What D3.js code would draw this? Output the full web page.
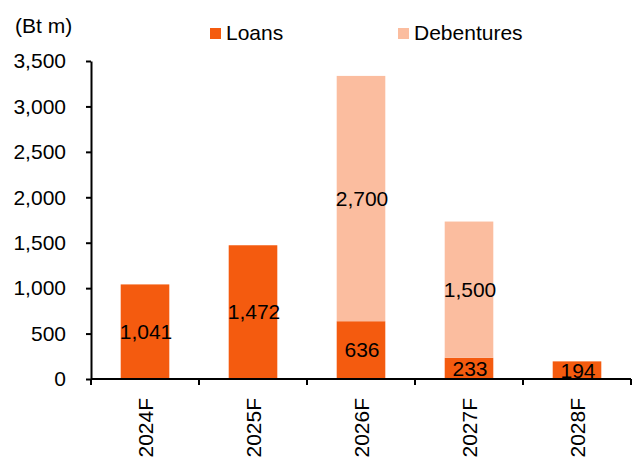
<!DOCTYPE html>
<html><head><meta charset="utf-8">
<script src="https://cdn.jsdelivr.net/npm/d3@7"></script>
<style>body{margin:0;background:#fff}svg{display:block;font-family:"Liberation Sans",Arial,sans-serif}</style>
</head><body><svg id="c" width="641" height="458"></svg>
<script>
const categories = ["2024F","2025F","2026F","2027F","2028F"];
const loans = [1041,1472,636,233,194];
const debentures = [0,0,2700,1500,0];
const yTicks = [0,500,1000,1500,2000,2500,3000,3500];
const seriesNames = ["Loans","Debentures"];
const colors = {Loans:"#F45B0F", Debentures:"#FBBD9F"};

(function(){
const FS = 21;
const svg = d3.select("#c");
const mL = 91, mR = 631, mT = 61, mB = 379;
const x = d3.scaleBand().domain(categories).range([mL,mR]).paddingInner(0.55).paddingOuter(0.275);
const y = d3.scaleLinear().domain([0,3500]).range([mB,mT]);
const fmt = d3.format(",");

const rows = categories.map((c,i)=>({cat:c, Loans:loans[i], Debentures:debentures[i]}));
const stack = d3.stack().keys(seriesNames)(rows);

svg.append("g").selectAll("g").data(stack).join("g")
  .attr("fill", d=>colors[d.key])
  .selectAll("rect").data(d=>d.filter(p=>p[1]-p[0]>0)).join("rect")
  .attr("x", d=>x(d.data.cat)).attr("width", x.bandwidth())
  .attr("y", d=>y(d[1])).attr("height", d=>y(d[0])-y(d[1]));

const lbl = svg.append("g").attr("font-size",FS).attr("fill","#000").attr("text-anchor","middle");
stack.forEach(s=>{
  s.forEach(p=>{
    if(p[1]-p[0]>0){
      lbl.append("text").attr("x", x(p.data.cat)+x.bandwidth()/2+1)
        .attr("y", y((p[0]+p[1])/2)).attr("dy","0.35em").text(fmt(p[1]-p[0]));
    }
  });
});

const ya = svg.append("g").attr("transform",`translate(${mL},0)`)
  .call(d3.axisLeft(y).tickValues(yTicks).tickFormat(fmt).tickSize(5).tickSizeOuter(0));
ya.select(".domain").attr("stroke","#000").attr("stroke-width",2);
ya.selectAll(".tick line").attr("stroke","#000").attr("stroke-width",2);
ya.selectAll("text").attr("font-size",FS).attr("fill","#000").attr("x",-25)
  .attr("font-family","Liberation Sans, Arial, sans-serif");

const boundaries = categories.map(c=>x(c)-x.step()*x.paddingInner()/2).concat([mR]);
const xa = svg.append("g");
xa.append("line").attr("x1",mL).attr("x2",mR).attr("y1",mB).attr("y2",mB)
  .attr("stroke","#000").attr("stroke-width",2);
xa.selectAll("line.t").data(boundaries).join("line").attr("class","t")
  .attr("x1",d=>d).attr("x2",d=>d).attr("y1",mB).attr("y2",mB+6)
  .attr("stroke","#000").attr("stroke-width",2);
xa.selectAll("text").data(categories).join("text")
  .attr("transform",d=>`translate(${x(d)+x.bandwidth()/2+8},${mB+19}) rotate(-90)`)
  .attr("text-anchor","end").attr("font-size",FS).attr("fill","#000").text(d=>d);

svg.append("text").attr("x",15).attr("y",33).attr("font-size",FS).attr("fill","#000").text("(Bt m)");

const legX = [210, 398];
seriesNames.forEach((n,i)=>{
  svg.append("rect").attr("x",legX[i]).attr("y",28).attr("width",11).attr("height",11).attr("fill",colors[n]);
  svg.append("text").attr("x",legX[i]+16).attr("y",40).attr("font-size",FS).attr("fill","#000").text(n);
});
})();
</script></body></html>
